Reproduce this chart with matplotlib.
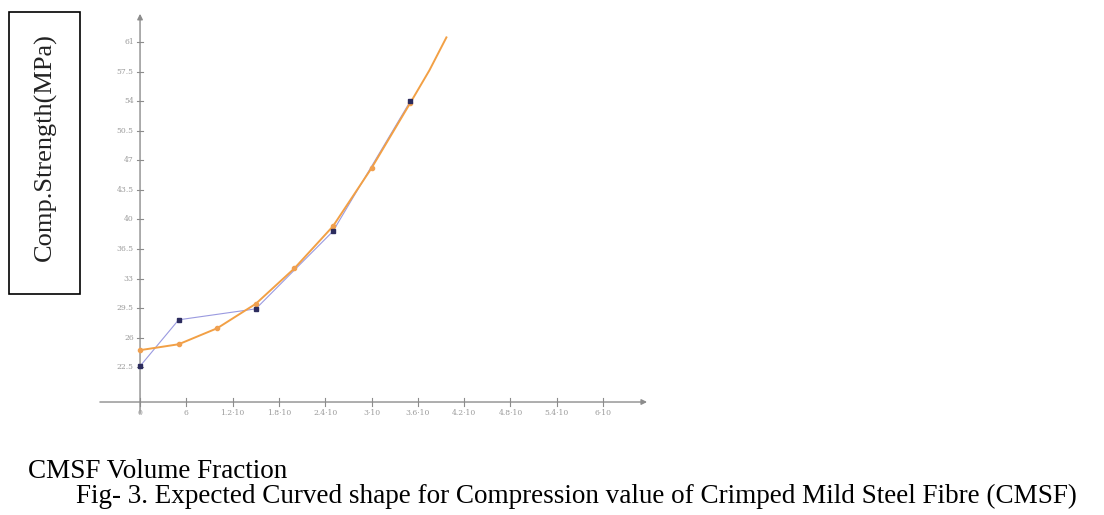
import matplotlib
matplotlib.use("Agg")
import matplotlib.pyplot as plt
from matplotlib.patches import Rectangle

# CMSF volume fraction (%) and compressive strength (MPa)
x_test = [0, 0.5, 1.5, 2.5, 3.5]
y_test = [22.6, 28.1, 29.4, 38.6, 54.0]

# expected curve (orange)
x_curve = [0, 0.5, 1.0, 1.5, 2.0, 2.5, 3.0, 3.5]
y_curve = [24.5, 25.2, 27.1, 30.0, 34.2, 39.2, 46.1, 53.8]
x_curve_end = [3.5, 3.75, 3.97]
y_curve_end = [53.8, 57.7, 61.6]

xticks = [0, 0.6, 1.2, 1.8, 2.4, 3.0, 3.6, 4.2, 4.8, 5.4, 6.0]
xtick_labels = ["0", "6", "1.2·10", "1.8·10", "2.4·10", "3·10", "3.6·10",
                "4.2·10", "4.8·10", "5.4·10", "6·10"]
yticks = [22.5, 26, 29.5, 33, 36.5, 40, 43.5, 47, 50.5, 54, 57.5, 61]
ytick_labels = ["22.5", "26", "29.5", "33", "36.5", "40", "43.5", "47",
                "50.5", "54", "57.5", "61"]

x_axis_y = 18.35

fig = plt.figure(figsize=(11.04, 5.15), dpi=100)
ax = fig.add_axes([0.0905, 0.1973, 0.4977, 0.7792])
ax.set_xlim(-0.52, 6.6)
ax.set_ylim(17, 64.6)
ax.axis("off")

axis_col = "#8c8c8c"
label_col = "#9a9a9a"

# axes with arrows (GeoGebra style)
ax.annotate("", xy=(6.57, x_axis_y), xytext=(-0.52, x_axis_y),
            arrowprops=dict(arrowstyle="-|>", color=axis_col, lw=1.0,
                            mutation_scale=8, shrinkA=0, shrinkB=0))
ax.annotate("", xy=(0, 64.4), xytext=(0, 17.0),
            arrowprops=dict(arrowstyle="-|>", color=axis_col, lw=1.0,
                            mutation_scale=8, shrinkA=0, shrinkB=0))

for xt, lab in zip(xticks, xtick_labels):
    ax.plot([xt, xt], [x_axis_y - 0.45, x_axis_y + 0.45], color=axis_col, lw=0.8)
    ax.text(xt, x_axis_y - 0.8, lab, ha="center", va="top", fontsize=5.5,
            color=label_col, family="DejaVu Serif")

for yt, lab in zip(yticks, ytick_labels):
    ax.plot([-0.04, 0.04], [yt, yt], color=axis_col, lw=0.8)
    ax.text(-0.08, yt, lab, ha="right", va="center", fontsize=5.5,
            color=label_col, family="DejaVu Serif")

# test results
ax.plot(x_test, y_test, color="#9a9ae0", lw=0.8, zorder=3)
ax.plot(x_test, y_test, "s", color="#2c2c5e", ms=3, zorder=5)

# expected curve
ax.plot(x_curve, y_curve, color="#f2a045", lw=1.4, zorder=4)
ax.plot(x_curve_end, y_curve_end, color="#f2a045", lw=1.4, zorder=4)
ax.plot(x_curve, y_curve, "o", color="#f0a050", ms=3, zorder=4)

# boxed y label
fig.patches.append(Rectangle((9 / 1104, 1 - 294 / 515), 71 / 1104, 282 / 515,
                             transform=fig.transFigure, fill=False,
                             edgecolor="black", lw=1.2))
fig.text(45 / 1104, 1 - 147 / 515, "Comp.Strength(MPa)", rotation=90,
         ha="center", va="center", fontsize=19, family="Liberation Serif",
         color="#222222")

fig.text(28 / 1104, 1 - 471 / 515, "CMSF Volume Fraction", ha="left",
         va="center", fontsize=19.5, family="Liberation Serif")
fig.text(76 / 1104, 1 - 496 / 515,
         "Fig- 3. Expected Curved shape for Compression value of Crimped Mild Steel Fibre (CMSF)",
         ha="left", va="center", fontsize=19.5, family="Liberation Serif")

fig.savefig("out.png", dpi=100)
